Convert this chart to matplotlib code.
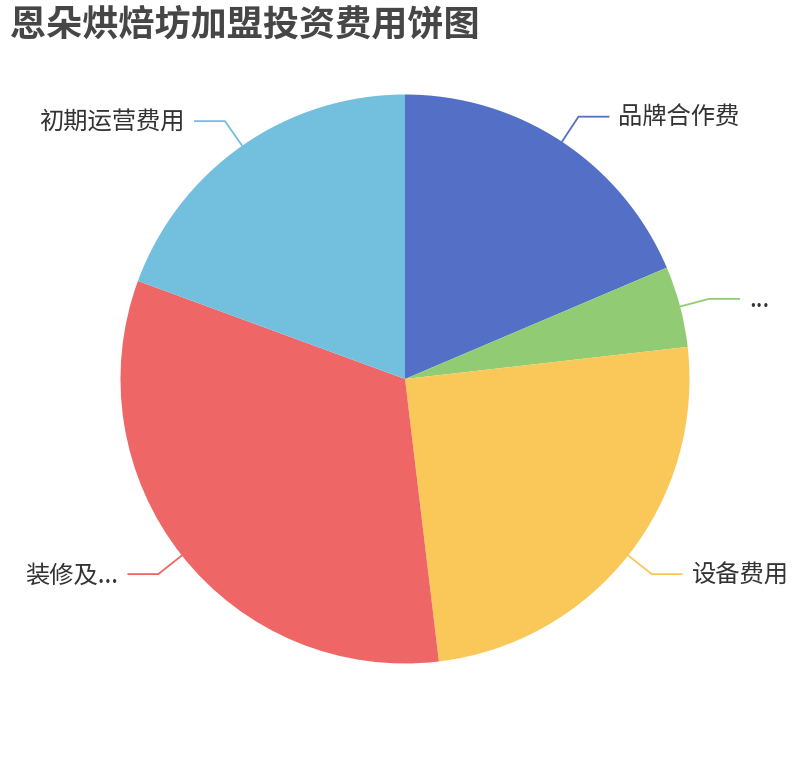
import numpy as np
import matplotlib
matplotlib.use("Agg")
import matplotlib.pyplot as plt

plt.rcParams['font.family'] = ['Noto Sans CJK SC', 'DejaVu Sans']

# --------------------------------------------------------
# DATA (percent share)
# --------------------------------------------------------
title = "恩朵烘焙坊加盟投资费用饼图"
categories = ["品牌合作费", "...", "设备费用", "装修及...", "初期运营费用"]
values = [18.6, 4.6, 24.9, 32.5, 19.4]
colors = ["#5470c6", "#91cc75", "#fac858", "#ee6666", "#73c0de"]

W, H = 810, 760
cx, cy, R = 405, H - 379, 284.5

fig = plt.figure(figsize=(W / 100, H / 100), dpi=100)
ax = fig.add_axes([0, 0, 1, 1])

wedges, _ = ax.pie(values, colors=colors, startangle=90, counterclock=False,
                   center=(cx, cy), radius=R,
                   wedgeprops=dict(linewidth=0))

# leader lines + labels
for w, lab, col in zip(wedges, categories, colors):
    mid = np.deg2rad((w.theta1 + w.theta2) / 2)
    ux, uy = np.cos(mid), np.sin(mid)
    x0, y0 = cx + R * ux, cy + R * uy
    x1, y1 = cx + (R + 30) * ux, cy + (R + 30) * uy
    side = 1 if ux >= 0 else -1
    x2 = x1 + side * 30
    ax.plot([x0, x1, x2], [y0, y1, y1], color=col, lw=1.3,
            solid_joinstyle='miter')
    ax.text(x2 + side * 10, y1 - 1.5, lab, fontsize=17.5, color="#333333",
            ha='left' if side > 0 else 'right', va='center')

ax.text(10, H - 25, title, fontsize=26, fontweight='bold', color="#464646",
        ha='left', va='center')

ax.set_xlim(0, W)
ax.set_ylim(0, H)
ax.set_aspect('auto')
ax.axis('off')

fig.savefig("out.png", dpi=100, facecolor='white')
